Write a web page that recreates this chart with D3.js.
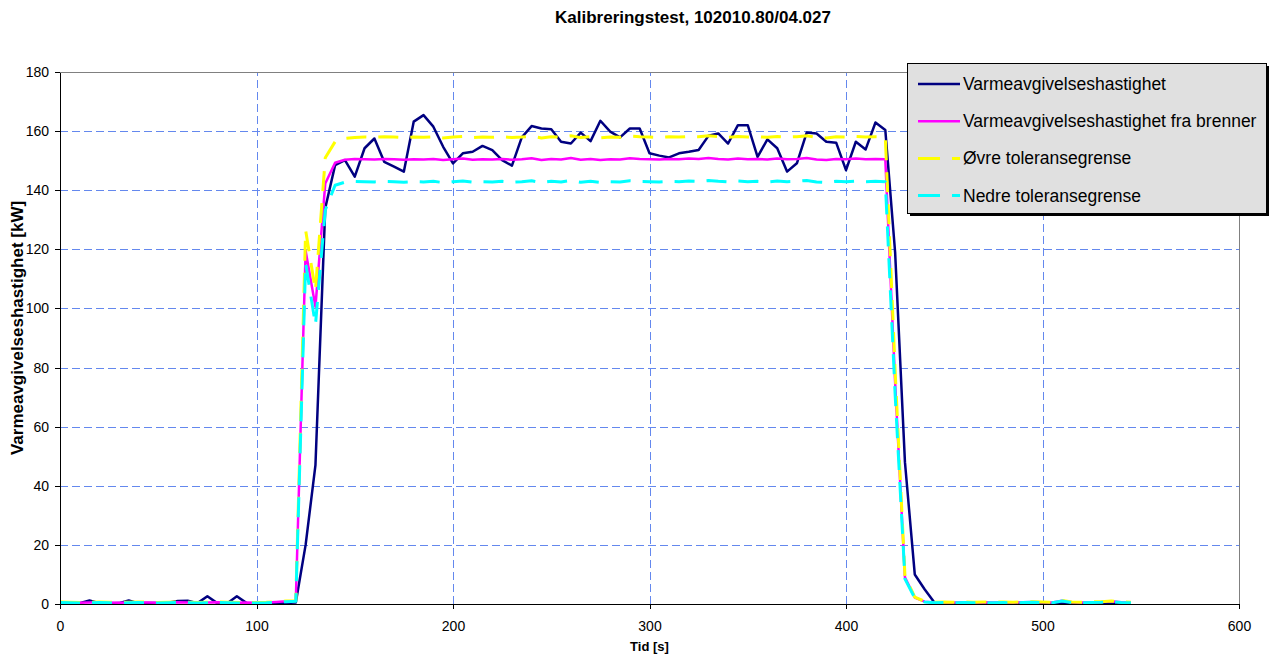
<!DOCTYPE html>
<html lang="no">
<head>
    <meta charset="UTF-8">
    <title>Kalibreringstest, 102010.80/04.027</title>
    <script src="https://d3js.org/d3.v7.min.js"></script>
    <style>
        body {
            margin: 0;
            background: #ffffff;
        }

        svg {
            font-family: Arial, "Liberation Sans", sans-serif;
        }

        .grid line {
            stroke: #6488ee;
            stroke-width: 1;
            stroke-dasharray: 8, 4;
            shape-rendering: crispEdges;
        }

        .grid path {
            stroke-width: 0;
        }

        .axis path,
        .axis line {
            stroke: #000000;
            shape-rendering: crispEdges;
        }

        .axis text {
            font-size: 14px;
            fill: #000000;
        }

        .frame {
            stroke: #808080;
            shape-rendering: crispEdges;
        }

        .line {
            fill: none;
            stroke-linejoin: round;
        }

        .title,
        .axis-label {
            font-weight: bold;
            fill: #000000;
        }

        .legend text {
            font-size: 17.5px;
            fill: #000000;
        }
    </style>
</head>
<body>
    <div id="chart"></div>
    <script>
        // Tid [s]
        const times = [
            0, 5, 10, 15, 20, 25, 30, 35, 40, 45, 50, 55, 60, 65, 70, 75, 80, 85, 90, 95,
            100, 105, 110, 115, 120, 125, 130, 135, 140, 145, 150, 155, 160, 165, 170, 175, 180, 185, 190, 195,
            200, 205, 210, 215, 220, 225, 230, 235, 240, 245, 250, 255, 260, 265, 270, 275, 280, 285, 290, 295,
            300, 305, 310, 315, 320, 325, 330, 335, 340, 345, 350, 355, 360, 365, 370, 375, 380, 385, 390, 395,
            400, 405, 410, 415, 420, 425, 430, 435, 440, 445, 450, 455, 460, 465, 470, 475, 480, 485, 490, 495,
            500, 505, 510, 515, 520, 525, 530, 535, 540, 545
        ];

        // Varmeavgivelseshastighet [kW]
        const hrr = [
            0.3, 0.2, 0.3, 1.2, 0.3, 0.2, 0.3, 1.2, 0.2, 0.3, 0.3, 0.4, 1.0, 1.1, 0.3, 2.6, 0.3, 0.2, 2.6, 0.3, 0.2, 0.3, 0.2, 0.3,
            0.5, 20, 47, 134, 148.5,
            150.2, 144.6, 154.2, 157.5, 149.6, 148, 146.3, 163.2, 165.4, 161.5,
            154.7, 149.1, 152.5, 153, 155, 153.6, 150.2, 148.3, 157.9, 161.7,
            160.9, 160.6, 156.4, 155.8, 159.5, 156.6, 163.5, 159.8, 157.9, 160.9,
            160.9, 152.5, 151.7, 151.1, 152.5, 153, 153.6, 158.4, 159.2, 155.8,
            162, 162, 151.3, 157.2, 154.2, 146.3, 149.1, 159.5, 159.2, 156.4,
            156.1, 146.8, 156.4, 153.8, 162.9, 160.4,
            119, 48, 10, 5,
            0.5, 0.3, 0.2, 0.3, 0.2, 0.3, 0.2, 0.3, 0.2, 0.3, 0.2, 0.3, 0.2, 0.5, 0.3, 0.2, 0.3, 0.2, 0.3, 0.2, 0.3
        ];

        // Varmeavgivelseshastighet fra brenner [kW]
        const burner = [
            0.6, 0.5, 0.4, 0.5, 0.6, 0.5, 0.4, 0.5, 0.6, 0.5, 0.4, 0.5, 0.6, 0.5, 0.4, 0.5, 0.6, 0.5, 0.4, 0.5, 0.4, 0.5, 0.7, 0.9,
            1.0, 119.5, 100.6, 142.3, 149.3,
            150.3, 150.6, 150.5, 150.4, 150.6, 150.5, 150.3, 150.5, 150.4, 150.6,
            150.2, 150.5, 150.7, 150.3, 150.5, 150.4, 150.6, 150.3, 150.5, 150.8,
            150.2, 150.6, 150.4, 150.9, 150.3, 150.6, 150.2, 150.5, 150.4, 150.8,
            150.6, 150.5, 150.4, 150.6, 150.5, 150.7, 150.6, 150.9, 150.6, 150.4,
            150.7, 150.5, 150.6, 150.4, 150.7, 150.5, 150.6, 150.9, 150.4, 150.2,
            150.6, 150.5, 150.7, 150.5, 150.6, 150.5,
            75, 9, 2.2, 0.8,
            0.5, 0.6, 0.5, 0.6, 0.5, 0.6, 0.5, 0.6, 0.5, 0.6, 0.7, 0.6, 0.5, 1.1, 0.6, 0.5, 0.6, 0.7, 0.9, 0.6, 0.5
        ];

        // Øvre toleransegrense [kW]
        const upper = [
            0.7, 0.6, 0.5, 0.6, 0.7, 0.6, 0.5, 0.6, 0.7, 0.6, 0.5, 0.6, 0.7, 0.6, 0.5, 0.6, 0.7, 0.6, 0.5, 0.6, 0.5, 0.6, 0.8, 1.0,
            1.1, 126.5, 106, 151, 156.4,
            157.5, 157.8, 158.0, 157.9, 158.1, 158.0, 157.8, 158.0, 157.9, 158.1,
            157.7, 158.0, 158.2, 157.8, 158.0, 157.9, 158.1, 157.8, 158.0, 158.3,
            157.7, 158.1, 157.9, 158.4, 157.8, 158.1, 157.7, 158.0, 157.9, 158.3,
            158.1, 158.0, 157.9, 158.1, 158.0, 158.2, 158.1, 158.4, 158.1, 157.9,
            158.2, 158.0, 158.1, 157.9, 158.2, 158.0, 158.1, 158.4, 157.9, 157.7,
            158.1, 158.0, 158.2, 158.0, 158.1, 158.0,
            79, 9.5, 2.3, 0.9,
            0.6, 0.7, 0.6, 0.7, 0.6, 0.7, 0.6, 0.7, 0.6, 0.7, 0.8, 0.7, 0.6, 1.2, 0.7, 0.6, 0.7, 0.8, 1.0, 0.7, 0.6
        ];

        // Nedre toleransegrense [kW]
        const lower = [
            0.5, 0.4, 0.3, 0.4, 0.5, 0.4, 0.3, 0.4, 0.5, 0.4, 0.3, 0.4, 0.5, 0.4, 0.3, 0.4, 0.5, 0.4, 0.3, 0.4, 0.3, 0.4, 0.6, 0.8,
            0.9, 115.3, 94.4, 133.3, 141.7,
            142.7, 143.0, 142.9, 142.8, 143.0, 142.9, 142.7, 142.9, 142.8, 143.0,
            142.6, 142.9, 143.1, 142.7, 142.9, 142.8, 143.0, 142.7, 142.9, 143.2,
            142.6, 143.0, 142.8, 143.3, 142.7, 143.0, 142.6, 142.9, 142.8, 143.2,
            143.0, 142.9, 142.8, 143.0, 142.9, 143.1, 143.0, 143.3, 143.0, 142.8,
            143.1, 142.9, 143.0, 142.8, 143.1, 142.9, 143.0, 143.3, 142.8, 142.6,
            143.0, 142.9, 143.1, 142.9, 143.0, 142.9,
            71, 8.5, 2.0, 0.7,
            0.4, 0.5, 0.4, 0.5, 0.4, 0.5, 0.4, 0.5, 0.4, 0.5, 0.6, 0.5, 0.4, 1.0, 0.5, 0.4, 0.5, 0.6, 0.8, 0.5, 0.4
        ];

        const xTicks = [0, 100, 200, 300, 400, 500, 600];
        const yTicks = [0, 20, 40, 60, 80, 100, 120, 140, 160, 180];

        const seriesNames = [
            "Varmeavgivelseshastighet",
            "Varmeavgivelseshastighet fra brenner",
            "Øvre toleransegrense",
            "Nedre toleransegrense"
        ];

        const fullWidth = 1269;
        const fullHeight = 657;
        const margin = { top: 72, right: 30, bottom: 53, left: 60 };
        const width = fullWidth - margin.left - margin.right;
        const height = fullHeight - margin.top - margin.bottom;

        // Series styles, in drawing order (last one on top)
        const styles = [
            { color: "#000080", width: 2.5, dash: null },
            { color: "#ff00ff", width: 2.5, dash: null },
            { color: "#ffff00", width: 3, dash: "20,12" },
            { color: "#00ffff", width: 3, dash: "20,12" }
        ];
        const values = [hrr, burner, upper, lower];

        const root = d3.select("#chart")
            .append("svg")
            .attr("width", fullWidth)
            .attr("height", fullHeight);

        const svg = root.append("g")
            .attr("transform", `translate(${margin.left},${margin.top})`);

        const x = d3.scaleLinear()
            .domain([0, 600])
            .range([0, width]);

        const y = d3.scaleLinear()
            .domain([0, 180])
            .range([height, 0]);

        // Rutenett
        svg.append("g")
            .attr("class", "grid")
            .call(d3.axisLeft(y)
                .tickValues(yTicks.filter(d => d > 0 && d < 180))
                .tickSize(-width)
                .tickFormat("")
            );

        svg.append("g")
            .attr("class", "grid")
            .attr("transform", `translate(0,${height})`)
            .call(d3.axisBottom(x)
                .tickValues(xTicks.filter(d => d > 0 && d < 600))
                .tickSize(-height)
                .tickFormat("")
            );

        // Ramme oppe og til høyre
        svg.append("line")
            .attr("class", "frame")
            .attr("x1", 0).attr("x2", width)
            .attr("y1", 0).attr("y2", 0);
        svg.append("line")
            .attr("class", "frame")
            .attr("x1", width).attr("x2", width)
            .attr("y1", 0).attr("y2", height);

        // Linjer
        values.forEach((vals, i) => {
            const data = times.map((t, j) => ({ t: t, v: vals[j] }));
            const line = d3.line()
                .x(d => x(d.t))
                .y(d => y(d.v));
            const path = svg.append("path")
                .datum(data)
                .attr("class", "line")
                .attr("stroke", styles[i].color)
                .attr("stroke-width", styles[i].width)
                .attr("d", line);
            if (styles[i].dash) path.attr("stroke-dasharray", styles[i].dash);
        });

        // Akser
        svg.append("g")
            .attr("class", "axis")
            .attr("transform", `translate(0,${height})`)
            .call(d3.axisBottom(x)
                .tickValues(xTicks)
                .tickSize(5)
                .tickSizeOuter(0)
                .tickPadding(12)
            );

        svg.append("g")
            .attr("class", "axis")
            .call(d3.axisLeft(y)
                .tickValues(yTicks)
                .tickSize(5)
                .tickSizeOuter(0)
                .tickPadding(6)
            );

        // Titler
        root.append("text")
            .attr("class", "title")
            .attr("x", 693)
            .attr("y", 23)
            .attr("text-anchor", "middle")
            .style("font-size", "17px")
            .text("Kalibreringstest, 102010.80/04.027");

        root.append("text")
            .attr("class", "axis-label")
            .attr("x", margin.left + width / 2)
            .attr("y", 651)
            .attr("text-anchor", "middle")
            .style("font-size", "13px")
            .text("Tid [s]");

        root.append("text")
            .attr("class", "axis-label")
            .attr("transform", "translate(23,328) rotate(-90)")
            .attr("text-anchor", "middle")
            .style("font-size", "17px")
            .text("Varmeavgivelseshastighet [kW]");

        // Tegnforklaring
        const legend = root.append("g").attr("class", "legend");
        const lx = 907, ly = 63, lw = 359, lh = 150;

        legend.append("rect")
            .attr("x", lx + 3).attr("y", ly + 3)
            .attr("width", lw).attr("height", lh)
            .attr("fill", "#000000");
        legend.append("rect")
            .attr("x", lx + 0.5).attr("y", ly + 0.5)
            .attr("width", lw).attr("height", lh)
            .attr("fill", "#e0e0e0")
            .attr("stroke", "#000000");

        seriesNames.forEach((name, i) => {
            const cy = ly + 21 + i * 37.2;
            const sample = legend.append("line")
                .attr("x1", lx + 11).attr("x2", lx + 53)
                .attr("y1", cy).attr("y2", cy)
                .attr("stroke", styles[i].color)
                .attr("stroke-width", styles[i].width);
            if (styles[i].dash) sample.attr("stroke-dasharray", "22,12");
            legend.append("text")
                .attr("x", lx + 56)
                .attr("y", cy + 6)
                .text(name);
        });
    </script>
</body>
</html>
